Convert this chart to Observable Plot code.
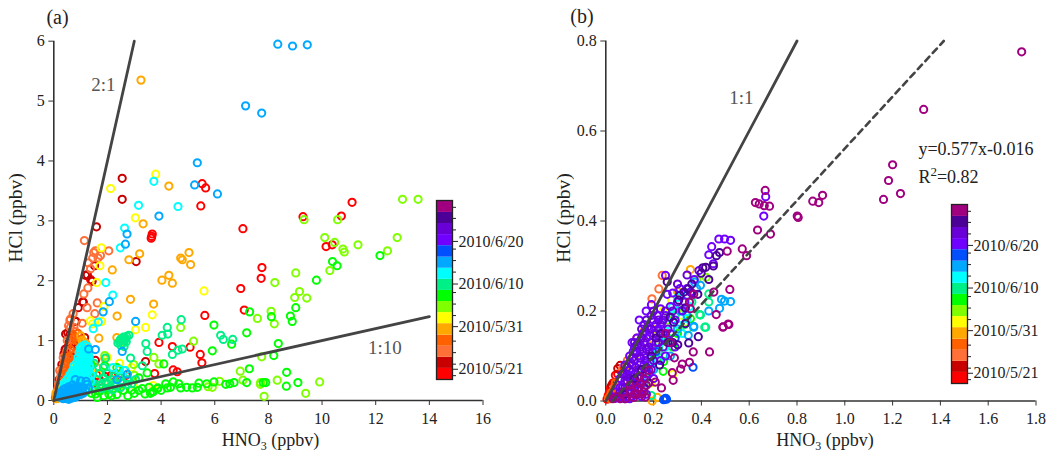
<!DOCTYPE html>
<html>
<head>
<meta charset="utf-8">
<script src="https://cdn.jsdelivr.net/npm/d3@7"></script>
<script src="https://cdn.jsdelivr.net/npm/@observablehq/plot@0.6"></script>
<style>
html,body{margin:0;padding:0;background:#fff}
#root{position:relative;width:1050px;height:458px;overflow:hidden;font-family:"Liberation Serif",serif}
#root>div,#root>svg{position:absolute}
svg{background:transparent;font-family:"Liberation Serif",serif;overflow:visible}
</style>
</head>
<body>
<div id="root"></div>
<script>
const bandColors=["#ff0000","#c80000","#ff7038","#ff6000","#ffa800","#ffff00","#80ff00","#00ff00","#00f088","#00ffff","#00a8ff","#0050ff","#7000ff","#6a00d8","#4c0098","#a00080"];
const barTickDays=[0,10,20,30];
const barTickLabels=["2010/5/21","2010/5/31","2010/6/10","2010/6/20"];
const barMinorDays=[-1.5,1.2,3.9,6.6,12.6,15.3,18,22.8,25.5,28.2,32.7,35.4,38];
const barEdges=[-2.4,0.2,2.8,5.4,8,10.7,13.3,15.9,18.5,21.1,23.7,26.3,29,31.6,34.2,36.8,39.6];

const aRed=[[5.53,3.62],[5.66,3.55],[5.48,3.25],[7.05,2.87],[11.12,3.31],[10.72,3.08],[9.29,3.07],[10.15,2.57],[10.38,2.6],[3.67,2.78],[3.65,2.74],[3.63,2.71],[7.76,2.22],[7.73,2.04],[6.97,1.87],[7.1,1.51],[5.63,1.42],[3.92,.97],[4.42,.9],[5.08,.89],[5.46,.77],[5.52,.63],[4.45,.51],[4.6,.48],[3.76,.45],[1.37,2.02],[1.93,.4],[.7,.97],[.5,.75],[1.1,.78],[.35,.55],[.62,.62],[.9,.5],[1.6,.43],[2.3,.45],[1.28,.7],[.25,.3],[.15,.2],[2.7,.42],[1.75,.32],[.42,.85],[.58,.98],[.28,.44],[.2,.35],[.85,.8],[1.15,.4],[1.5,.3],[2.15,.42],[2.5,.33]];
const aDark=[[2.55,3.71],[2.55,3.36],[1.59,2.9],[3.07,2.32],[1.52,2.25],[1.18,2.09],[1.43,1.99],[1.25,2.1],[1.08,1.65],[.91,1.55],[1.1,1.64],[.8,1.32],[.83,1.32],[.44,1.11],[.6,1.1],[.44,.86],[.69,.83],[.9,.92],[1.15,1.05],[1.55,.67],[1.28,.45],[3.42,.65],[.3,.6],[.55,.95],[.75,.7],[.52,1.13],[.38,.78],[.62,.75]];
const aCoral=[[1.14,2.67],[1.49,2.47],[2.05,2.5],[1.45,2.38],[1.74,2.42],[1.37,2.2],[1.27,1.88],[1.12,1.78],[1.24,1.55],[1.62,1.63],[1.53,1.45],[.72,1.45],[.62,1.36],[1.06,1.29],[.62,1.22],[.6,1.34],[.8,1.15],[.5,1.0],[.42,.68],[.3,.48],[.55,.55],[.25,.38],[.18,.27],[.7,.75],[.85,.62],[.55,1.25],[.68,1.02],[.35,.72],[.22,.5],[.14,.18],[.4,.58],[.48,.82],[1.55,2.5],[1.65,2.38],[1.28,2.3],[.75,1.22]];
const aOrange2=[[.72,1.1],[.9,1.12],[1.02,1.02],[.85,1.0],[.62,.85],[.75,.9],[.45,.72],[.55,.72],[.35,.42],[.42,.5],[.2,.25],[.28,.32],[.6,.5],[.12,.15],[.95,.85],[.8,.55],[.38,.62],[.5,.62],[.65,.7],[.3,.28],[.48,.45],[.18,.13],[.25,.2],[.08,.08],[.7,.62],[.58,.42],[.78,1.05],[.92,1.0],[.06,.04]];
const aOrange=[[3.25,5.35],[4.29,3.58],[3.33,2.95],[3.2,2.45],[2.8,2.35],[2.18,2.18],[5.04,2.47],[4.73,2.38],[4.79,2.35],[5.1,2.27],[4.29,2.09],[4.03,2.01],[4.42,1.96],[3.72,1.61],[2.86,1.69],[2.36,1.41],[1.68,1.04],[2.35,1.05],[1.0,1.08],[1.2,.95],[1.9,.7],[1.24,.6],[1.6,.55],[.3,.2],[.45,.28],[.55,.38],[.65,.35],[.15,.08],[.35,.1],[.5,.15],[.75,.45],[.95,.62],[.1,.03],[.22,.06],[.4,.3],[.28,.14],[.08,.12],[.18,.04],[1.05,1.0],[1.12,.98]];
const aYellow=[[2.12,3.54],[3.8,3.78],[3.04,3.05],[1.77,2.55],[1.72,2.25],[1.6,1.97],[1.87,1.57],[1.37,1.33],[1.45,1.28],[1.78,1.32],[3.67,1.43],[3.05,1.18],[3.42,1.22],[5.6,1.83],[2.45,.62],[2.9,.55],[1.99,.72],[1.1,.88],[1.3,.75],[2.6,.98],[3.7,.25],[2.95,.27],[.8,.55],[.95,.45],[2.2,.35],[2.55,.42],[1.65,.45]];
const aYGreen=[[13.0,3.36],[13.58,3.36],[9.33,3.02],[10.58,3.02],[10.1,2.72],[10.47,2.64],[12.8,2.72],[11.34,2.6],[10.78,2.53],[10.83,2.48],[12.44,2.5],[10.29,2.17],[9.02,2.13],[8.24,1.97],[9.16,1.82],[8.98,1.72],[9.43,1.71],[8.1,1.49],[8.22,1.28],[7.59,1.37],[4.73,1.22],[5.21,.99],[3.73,.72],[3.92,.61],[7.75,.73],[6.95,.49],[7.05,.34],[8.33,.34],[9.39,.12],[9.91,.31],[7.84,.07],[7.71,.3],[7.7,.27],[5.75,.23],[5.91,.22],[6.18,.32],[2.98,.6],[3.0,.42],[2.45,.2],[1.9,.75],[2.05,.3]];
const aGreen=[[12.16,2.42],[10.39,2.32],[10.56,2.25],[9.79,2.01],[9.02,1.55],[8.82,1.41],[8.89,1.32],[8.11,1.4],[7.3,1.48],[5.97,1.26],[7.19,1.13],[6.63,.94],[5.91,.83],[4.1,.61],[7.29,.53],[7.19,.3],[8.37,.95],[8.2,.75],[8.68,.47],[9.1,.3],[8.67,.24],[7.9,.3],[7.81,.3],[3.68,.14],[3.88,.21],[4.17,.28],[4.23,.21],[4.35,.22],[4.45,.31],[4.66,.28],[4.73,.21],[4.95,.22],[5.16,.21],[5.35,.22],[5.41,.29],[5.7,.28],[5.97,.31],[6.41,.27],[6.56,.28],[6.72,.3],[2.76,.08],[1.87,.08],[2.05,.11],[1.56,.11],[2.9,.17],[3.17,.17],[3.4,.11],[3.55,.22],[3.71,.15],[3.86,.2],[3.17,.38],[3.48,.46],[1.55,.2],[2.25,.25],[2.6,.17],[3.0,.12],[1.2,.15],[1.4,.12],[1.7,.15],[2.35,.1],[3.3,.2],[1.62,.05],[2.15,.08],[3.6,.12],[4.0,.17],[1.95,.2],[1.4,.6],[1.9,.58],[2.35,.55]];
const aSpring=[[4.75,1.35],[4.23,1.22],[4.25,1.11],[4.04,1.09],[6.22,1.09],[6.32,1.02],[6.67,1.02],[4.79,.86],[4.63,.84],[4.42,.77],[2.39,.96],[2.64,1.0],[2.55,1.03],[2.67,1.04],[2.8,1.09],[2.72,1.07],[2.6,1.06],[2.45,.98],[2.5,.92],[2.62,.9],[3.43,.95],[3.48,.82],[3.3,.58],[2.86,.71],[1.93,.71],[1.5,.62],[1.85,.55],[2.0,.45],[2.3,.3],[2.45,.38],[2.15,.35],[1.75,.25],[1.9,.3],[1.4,.3],[1.6,.35],[1.3,.25],[2.55,.3],[2.75,.27],[2.65,.5],[3.05,.35],[1.7,.45],[2.2,.18],[1.05,.22],[1.45,.5],[2.35,.25],[2.1,.22],[1.85,.38],[1.55,.27],[2.25,.4],[2.75,.35],[2.5,.22],[1.8,.2],[1.35,.4],[2.9,.28],[2.0,.28],[2.58,.96],[2.7,.98],[2.48,1.02]];
const aCyan=[[3.73,3.66],[3.16,3.26],[4.63,3.24],[2.64,2.88],[2.48,2.55],[1.94,1.97],[2.2,1.76],[1.66,1.31],[1.47,1.2],[2.2,.55],[2.45,.52],[2.65,.5],[1.0,.88],[1.15,.93],[1.2,.85],[.95,.8],[1.1,.78],[1.3,.8],[1.05,.7],[.9,.72],[1.2,.72],[.85,.63],[1.0,.6],[1.12,.63],[1.27,.65],[.75,.58],[.9,.55],[1.05,.52],[1.2,.55],[.7,.5],[.85,.47],[1.0,.43],[1.15,.45],[1.3,.5],[.6,.43],[.75,.4],[.9,.37],[1.05,.35],[1.2,.38],[.5,.35],[.65,.33],[.8,.3],[.95,.27],[1.1,.28],[.45,.28],[.6,.25],[.75,.22],[.35,.22],[.5,.2],[1.28,.38],[1.4,.42],[1.05,.9],[1.12,.85],[1.25,.9],[1.02,.8],[1.18,.78],[1.08,.74],[.97,.68],[1.15,.68],[1.25,.74],[1.32,.72],[.93,.6],[1.06,.58],[1.2,.6],[.8,.52],[.95,.5],[1.1,.5],[1.25,.48],[.65,.46],[.8,.42],[.95,.42],[1.1,.4],[.55,.38],[.7,.36],[.85,.33],[1.0,.3],[1.15,.32],[.4,.3],[.55,.28],[.7,.27],[.85,.25],[1.0,.22],[.42,.22],[.6,.2],[.78,.18],[.92,.2],[1.34,.58],[1.38,.32]];
const aSky=[[8.35,5.95],[8.9,5.92],[9.45,5.94],[7.15,4.92],[7.75,4.8],[5.35,3.97],[5.25,3.6],[6.1,3.45],[3.92,3.08],[2.73,2.78],[2.67,2.61],[2.07,1.65],[1.84,1.48],[3.05,1.32],[1.3,.86],[1.55,.85],[2.55,.82],[2.74,.44],[2.36,.35],[.2,.1],[.3,.07],[.4,.04],[.3,.15],[.4,.12],[.5,.09],[.6,.05],[.42,.2],[.52,.16],[.62,.13],[.72,.09],[.82,.06],[.55,.23],[.65,.2],[.75,.16],[.85,.13],[.95,.1],[.7,.26],[.82,.22],[.92,.19],[1.02,.15],[1.1,.12],[.8,.35],[1.0,.33],[1.2,.32],[1.3,.2],[1.25,.27],[.25,.05],[.35,.03],[.48,.03],[.56,.02],[.68,.04],[.25,.12],[.35,.09],[.45,.07],[.55,.06],[.65,.08],[.75,.05],[.88,.09],[.36,.18],[.47,.14],[.57,.11],[.67,.17],[.78,.12],[.9,.15],[1.0,.1],[.6,.2],[.72,.21],[.87,.18],[.97,.23],[1.08,.2],[1.18,.18]];
const aBands=[aRed,aDark,aCoral,aOrange2,aOrange,aYellow,aYGreen,aGreen,aSpring,aCyan,aSky];

const bRed=[[.005,.004],[.01,.012],[.02,.03],[.03,.04],[.04,.057],[.015,.02],[.05,.06]];
const bDark=[[.06,.079],[.05,.072],[.025,.035]];
const bCoral=[[.236,.279],[.222,.249],[.193,.227],[.16,.155],[.13,.14],[.09,.09],[.07,.072],[.035,.03]];
const bOrange2=[[.012,.008],[.022,.018],[.04,.04],[.06,.05],[.075,.065],[.018,.005],[.03,.02]];
const bOrange=[[.354,.292],[.3,.243],[.215,.008],[.194,.0],[.25,.15],[.17,.13],[.2,.09],[.09,.04],[.11,.07]];
const bYellow=[[.275,.224],[.24,.2],[.2,.16],[.28,.06],[.15,.1],[.32,.19],[.27,.13],[.19,.04],[.22,.12]];
const bYGreen=[[.42,.275],[.38,.27],[.3,.205],[.26,.18],[.23,.14],[.34,.16]];
const bGreen=[[.354,.183],[.24,.066],[.242,.088],[.28,.12],[.2,.1],[.3,.15],[.17,.05]];
const bSpring=[[.431,.238],[.431,.22],[.393,.192],[.418,.164],[.414,.164],[.396,.191],[.191,.012],[.26,.14],[.33,.17],[.22,.11],[.29,.19],[.18,.08],[.36,.22]];
const bCyan=[[.28,.209],[.34,.183],[.23,.15],[.26,.17],[.2,.12],[.3,.17],[.32,.15],[.25,.12],[.18,.09],[.22,.09],[.35,.21],[.16,.06],[.27,.19],[.3,.23]];
const bSky=[[.372,.264],[.396,.257],[.38,.25],[.484,.226],[.497,.222],[.522,.221],[.476,.206],[.431,.2],[.368,.164],[.368,.166],[.345,.146],[.34,.19],[.31,.2],[.3,.16],[.25,.14],[.2,.07],[.27,.1],[.16,.04]];
const bBlue=[[.365,.075],[.246,.004],[.254,.004],[.242,.003],[.25,.006],[.32,.2],[.29,.14],[.21,.11],[.34,.235]];
const bViolet=[[.473,.36],[.497,.36],[.522,.357],[.443,.343],[.431,.325],[.669,.454],[.661,.411],[.25,.279],[.257,.237],[.191,.214],[.229,.205],[.169,.2],[.45,.305],[.354,.242],[.32,.201],[.18,.16],[.19,.19],[.155,.15],[.14,.18],[.16,.17],[.21,.17],[.22,.16],[.24,.14],[.12,.12],[.13,.14],[.1,.1],[.11,.13],[.15,.12],[.17,.14],[.19,.13],[.2,.15],[.12,.09],[.14,.1],[.16,.1],[.18,.11],[.08,.08],[.09,.06],[.1,.07],[.12,.06],[.14,.07],[.16,.08],[.18,.06],[.06,.05],[.07,.03],[.09,.03],[.11,.04],[.13,.04],[.15,.04],[.04,.02],[.05,.008],[.07,.01],[.09,.01],[.11,.01],[.13,.015],[.15,.01],[.17,.015],[.03,.008],[.28,.24],[.3,.22],[.27,.21],[.31,.25],[.34,.25],[.29,.18],[.25,.19],[.23,.17],[.27,.15],[.29,.12],[.21,.13],[.25,.1],[.23,.09],[.17,.06],[.2,.05],[.33,.22],[.37,.27],[.39,.29],[.125,.105],[.145,.135],[.165,.155],[.175,.165],[.2,.18],[.215,.19],[.235,.175],[.105,.085],[.115,.11],[.135,.125],[.155,.11],[.185,.145],[.195,.11],[.085,.055],[.105,.055],[.125,.075],[.145,.085],[.165,.09],[.185,.085],[.06,.03],[.08,.045],[.1,.02],[.12,.025],[.14,.03],[.16,.03],[.04,.006],[.08,.005],[.1,.005]];
const bViolet2=[[.25,.2],[.22,.18],[.2,.2],[.17,.18],[.15,.16],[.13,.11],[.11,.08],[.18,.12],[.2,.09],[.22,.13],[.16,.13],[.19,.07],[.14,.05],[.1,.05],[.08,.03],[.12,.03],[.34,.28],[.3,.26],[.28,.2],[.26,.16],[.36,.24],[.24,.12],[.12,.13],[.07,.06],[.13,.125],[.15,.14],[.17,.115],[.19,.16],[.21,.15],[.24,.18],[.11,.095],[.145,.095],[.17,.075],[.09,.075],[.135,.065],[.06,.02],[.09,.045]];
const bIndigo=[[.463,.323],[.476,.33],[.45,.3],[.418,.297],[.406,.296],[.399,.284],[.431,.27],[.257,.265],[.305,.224],[.327,.242],[.345,.249],[.385,.237],[.333,.207],[.27,.186],[.333,.172],[.284,.175],[.387,.143],[.347,.129],[.301,.125],[.225,.08],[.31,.235],[.36,.26],[.21,.14],[.19,.1],[.23,.15],[.26,.13],[.15,.07],[.28,.13],[.18,.04],[.12,.05],[.08,.015]];
const bPurple=[[1.74,.776],[1.33,.648],[1.2,.525],[1.183,.49],[1.233,.461],[1.162,.448],[.907,.457],[.891,.441],[.866,.444],[.801,.411],[.805,.408],[.667,.468],[.685,.433],[.663,.434],[.642,.438],[.626,.441],[.635,.38],[.689,.371],[.508,.333],[.571,.338],[.589,.323],[.452,.242],[.519,.248],[.368,.237],[.462,.192],[.491,.165],[.515,.17],[.49,.164],[.512,.171],[.434,.109],[.366,.109],[.287,.096],[.35,.086],[.32,.082],[.313,.071],[.278,.063],[.282,.046],[.233,.029],[.207,.042],[.18,.068],[.145,.038],[.131,.016],[.082,.005],[.117,.008],[.159,.02],[.166,.009],[.103,.023],[.16,.05],[.135,.03],[.12,.015],[.1,.035],[.17,.035],[.15,.015],[.14,.055],[.075,.02],[.06,.005],[.03,.005],[.045,.01],[.25,.15],[.35,.22],[.354,.205],[.27,.13]];
const bBands=[bRed,bDark,bCoral,bOrange2,bOrange,bYellow,bYGreen,bGreen,bSpring,bCyan,bSky,bBlue,bViolet,bViolet2,bIndigo,bPurple];

const toRows=bands=>bands.flatMap((pts,band)=>pts.map(([x,y])=>({x,y,band})));
const grey="#555";
const ink="#333";
const root=document.getElementById("root");

function panel({left,width,marginLeft,marginRight,marginTop,marginBottom,xDomain,yDomain,xTicks,yTicks,xFmt,yFmt,rows,extra,yLabelDx,xLabelDx}){
  const p=Plot.plot({
    width,height:458,marginLeft,marginRight,marginTop,marginBottom,
    style:{background:"transparent",fontFamily:"'Liberation Serif',serif",overflow:"visible"},
    x:{domain:xDomain,ticks:xTicks,tickFormat:xFmt,label:null},
    y:{domain:yDomain,ticks:yTicks,tickFormat:yFmt,label:null},
    color:{type:"ordinal",domain:d3.range(16),range:bandColors},
    marks:[
      Plot.axisX({ticks:xTicks,tickFormat:xFmt,tickSize:5,tickPadding:7,fontSize:16,stroke:ink,fill:"#222",label:null}),
      Plot.axisY({ticks:yTicks,tickFormat:yFmt,tickSize:5,tickPadding:4,fontSize:16,stroke:ink,fill:"#222",label:null}),
      Plot.ruleX([xDomain[0]],{stroke:ink,strokeWidth:1.6}),
      Plot.ruleY([yDomain[0]],{stroke:ink,strokeWidth:1.6}),
      Plot.dot(rows,{x:"x",y:"y",stroke:"band",r:3.6,strokeWidth:2,fill:"none"}),
      ...extra,
      Plot.text(["HCl (ppbv)"],{frameAnchor:"left",textAnchor:"middle",rotate:-90,dx:yLabelDx,dy:-3,fontSize:19.5,fill:"#222"}),
      Plot.text(["HNO3 (ppbv)"],{frameAnchor:"bottom",dx:xLabelDx,dy:45,fontSize:18,fill:"#222"})
    ]
  });
  p.style.left=left+"px";p.style.top="0px";
  p.querySelectorAll("text").forEach(t=>{
    if(t.textContent==="HNO3 (ppbv)") t.innerHTML='HNO<tspan dy="4" font-size="12">3</tspan><tspan dy="-4"> (ppbv)</tspan>';
    if(t.textContent==="R2=0.82") t.innerHTML='R<tspan dy="-7" font-size="13">2</tspan><tspan dy="7">=0.82</tspan>';
  });
  root.appendChild(p);
}

function bar({left,top}){
  const rows=bandColors.map((c,i)=>({y1:barEdges[i],y2:barEdges[i+1],band:i}));
  const p=Plot.plot({
    width:100,height:179,marginLeft:0,marginRight:84,marginTop:0,marginBottom:0,
    style:{background:"transparent",fontFamily:"'Liberation Serif',serif",overflow:"visible"},
    x:{domain:[0,1],axis:null},
    y:{domain:[-2.4,39.6],label:null},
    color:{type:"ordinal",domain:d3.range(16),range:bandColors},
    marks:[
      Plot.rectY(rows,{x1:0,x2:1,y1:"y1",y2:"y2",fill:"band"}),
      Plot.axisY(barMinorDays,{anchor:"right",tickSize:3,tickFormat:()=>"",stroke:"#222"}),
      Plot.axisY({anchor:"right",ticks:barTickDays,tickFormat:d=>barTickLabels[barTickDays.indexOf(d)],tickSize:5,tickPadding:1,fontSize:16,stroke:"#222",fill:"#222",label:null}),
      Plot.frame({stroke:"#222",strokeWidth:1.3})
    ]
  });
  p.style.left=left+"px";p.style.top=top+"px";
  root.appendChild(p);
}

const ratioLine=(pts,o)=>Plot.line(pts,{x:d=>d[0],y:d=>d[1],stroke:"#444",strokeWidth:2.8,...o});

panel({left:0,width:500,marginLeft:53.3,marginRight:17.5,marginTop:40.7,marginBottom:58,yLabelDx:-38,xLabelDx:2,
  xDomain:[0,16],yDomain:[0,6],xTicks:d3.range(0,17,2),yTicks:d3.range(0,7),xFmt:d3.format("d"),yFmt:d3.format("d"),
  rows:toRows(aBands),
  extra:[
    ratioLine([[0,0],[3,6]],{}),
    ratioLine([[0,0],[14,1.4]],{}),
    Plot.text(["2:1"],{x:[1.85],y:[5.27],fontSize:19,fill:grey}),
    Plot.text(["1:10"],{x:[12.34],y:[.88],fontSize:19,fill:grey}),
    Plot.text(["(a)"],{x:[.14],y:[6.4],fontSize:20,fill:"#222"})
  ]});

panel({left:530,width:520,marginLeft:75.3,marginRight:14.5,marginTop:40.5,marginBottom:57.5,yLabelDx:-42,xLabelDx:4,
  xDomain:[0,1.8],yDomain:[0,.8],xTicks:d3.range(0,10).map(i=>i/5),yTicks:d3.range(0,5).map(i=>i/5),xFmt:d3.format(".1f"),yFmt:d3.format(".1f"),
  rows:toRows(bBands),
  extra:[
    ratioLine([[0,0],[.8,.8]],{}),
    ratioLine([[.028,0],[1.414,.8]],{strokeDasharray:"6,5",strokeWidth:2.6}),
    Plot.text(["1:1"],{x:[.567],y:[.674],fontSize:19,fill:grey}),
    Plot.text(["y=0.577x-0.016"],{x:[1.308],y:[.559],textAnchor:"start",fontSize:18,fill:"#222"}),
    Plot.text(["R2=0.82"],{x:[1.308],y:[.497],textAnchor:"start",fontSize:18,fill:"#222"}),
    Plot.text(["(b)"],{x:[-.1],y:[.854],fontSize:20,fill:"#222"})
  ]});

bar({left:436,top:200});
bar({left:951,top:204});
</script>
</body>
</html>
